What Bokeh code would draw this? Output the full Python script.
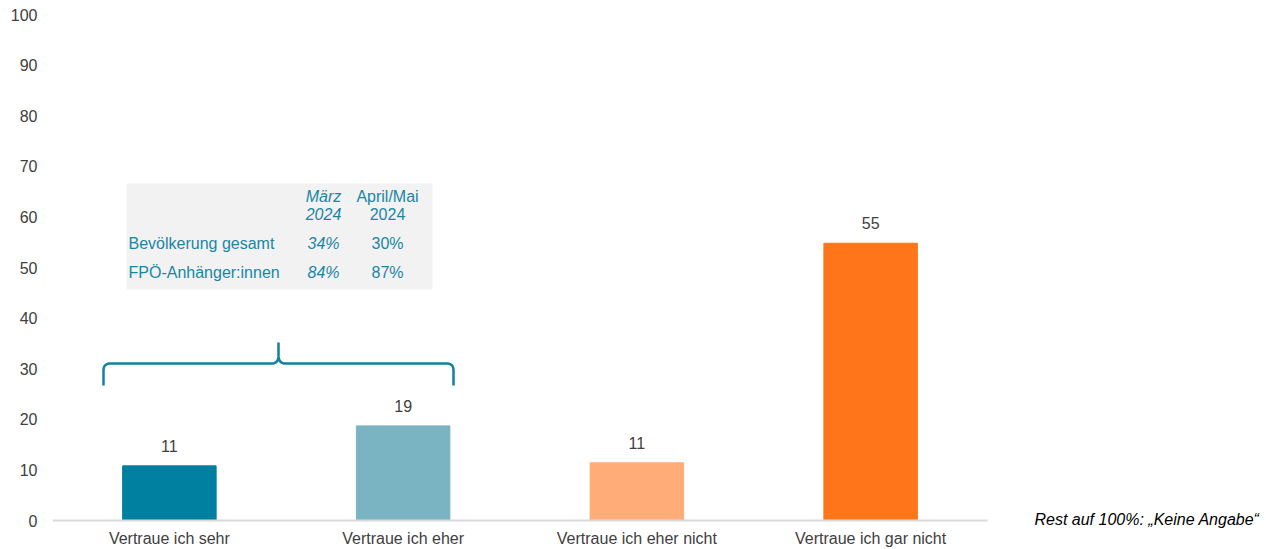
import numpy as np
from bokeh.plotting import figure
from bokeh.models import Range1d, FixedTicker, ColumnDataSource
from bokeh.core.properties import value
from bokeh.embed import file_html
from bokeh.resources import INLINE

categories = ["Vertraue ich sehr", "Vertraue ich eher", "Vertraue ich eher nicht", "Vertraue ich gar nicht"]
values = [10.8, 18.7, 11.4, 54.8]
value_labels = ["11", "19", "11", "55"]
colors = ["#0080a1", "#7ab4c2", "#ffac78", "#ff761a"]
y_ticks = [0, 10, 20, 30, 40, 50, 60, 70, 80, 90, 100]

table_header = ["März\n2024", "April/Mai\n2024"]
table_rows = ["Bevölkerung gesamt", "FPÖ-Anhänger:innen"]
table_maerz = ["34%", "84%"]
table_april = ["30%", "87%"]
note = "Rest auf 100%: „Keine Angabe“"

FONT = "Liberation Sans"
W, H = 1266, 549
L, T, B = 52, 14, 21
CAT_W = 233.75           # pixel width of one category slot
Y0_PX = 520              # pixel row of value 0
Y_SCALE = (Y0_PX - T) / 100.0
FRAME_BOTTOM = H - B     # 528 expected
n = len(categories)
x_end = (W - L) / CAT_W
y_start = -(FRAME_BOTTOM - Y0_PX) / Y_SCALE

p = figure(width=W, height=H, output_backend="svg", toolbar_location=None,
           x_range=Range1d(0, x_end), y_range=Range1d(y_start, 100),
           min_border_left=L, min_border_right=0, min_border_top=T, min_border_bottom=B)
p.outline_line_color = None
p.grid.grid_line_color = None
p.background_fill_color = "white"
p.border_fill_color = "white"

def px_x(px):
    return (px - L) / CAT_W
def px_y(py):
    return (Y0_PX - py) / Y_SCALE

xs = [i + 0.5 for i in range(n)]
src = ColumnDataSource(dict(x=xs, top=values, color=colors, lab=value_labels))
p.vbar(x="x", top="top", bottom=0, width=0.4, color="color", source=src)
p.text(x="x", y="top", text="lab", source=src, text_align="center", text_baseline="bottom",
       y_offset=-14, text_font=value(FONT), text_font_size="16px", text_color="#404040")

# baseline (x axis line) across the category slots only
p.segment(x0=[0], y0=[0], x1=[n], y1=[0], line_color="#d9d9d9", line_width=2)

# axes
p.xaxis.ticker = FixedTicker(ticks=xs)
p.xaxis.major_label_overrides = {x: c for x, c in zip(xs, categories)}
p.xaxis.major_tick_line_color = None
p.xaxis.major_tick_out = 0
p.xaxis.major_tick_in = 0
p.xaxis.minor_tick_line_color = None
p.xaxis.axis_line_color = None
p.xaxis.major_label_text_font = FONT
p.xaxis.major_label_text_font_size = "16px"
p.xaxis.major_label_text_color = "#404040"
p.xaxis.major_label_standoff = 1

p.yaxis.ticker = FixedTicker(ticks=y_ticks)
p.yaxis.major_tick_line_color = None
p.yaxis.major_tick_out = 0
p.yaxis.major_tick_in = 0
p.yaxis.minor_tick_line_color = None
p.yaxis.axis_line_color = None
p.yaxis.major_label_text_font = FONT
p.yaxis.major_label_text_font_size = "16px"
p.yaxis.major_label_text_color = "#404040"
p.yaxis.major_label_standoff = 15

# table box
p.quad(left=px_x(126), right=px_x(432), top=px_y(183), bottom=px_y(289),
       fill_color="#f2f2f2", line_color=None)
TC = "#1a86a5"
TS = "16px"
hx = [px_x(323), px_x(387)]
p.text(x=[hx[0]], y=[px_y(205)], text=[table_header[0]], text_align="center", text_baseline="middle",
       text_font=value(FONT), text_font_size=TS, text_font_style="italic", text_color=TC,
       text_line_height=1.1)
p.text(x=[hx[1]], y=[px_y(205)], text=[table_header[1]], text_align="center", text_baseline="middle",
       text_font=value(FONT), text_font_size=TS, text_color=TC, text_line_height=1.1)
ry = [px_y(243), px_y(272)]
p.text(x=[px_x(128)] * 2, y=ry, text=table_rows, text_align="left", text_baseline="middle",
       text_font=value(FONT), text_font_size=TS, text_color=TC)
p.text(x=[hx[0]] * 2, y=ry, text=table_maerz, text_align="center", text_baseline="middle",
       text_font=value(FONT), text_font_size=TS, text_font_style="italic", text_color=TC)
p.text(x=[hx[1]] * 2, y=ry, text=table_april, text_align="center", text_baseline="middle",
       text_font=value(FONT), text_font_size=TS, text_color=TC)

# curly brace (pixel path -> data)
def qbez(p0, c, p1, k=12):
    t = np.linspace(0, 1, k)
    x = (1 - t) ** 2 * p0[0] + 2 * (1 - t) * t * c[0] + t ** 2 * p1[0]
    y = (1 - t) ** 2 * p0[1] + 2 * (1 - t) * t * c[1] + t ** 2 * p1[1]
    return list(zip(x, y))

hy = 363
pts = [(103, 385), (103, 370)]
pts += qbez((103, 370), (103, hy), (110, hy))
pts += [(271, hy)]
pts += qbez((271, hy), (278, hy), (278, 355))
pts += [(278, 342), (278, 355)]
pts += qbez((278, 355), (278, hy), (285, hy))
pts += [(446, hy)]
pts += qbez((446, hy), (453, hy), (453, 370))
pts += [(453, 385)]
p.line([px_x(a) for a, b in pts], [px_y(b) for a, b in pts], line_color="#12809f", line_width=2.5)

# note
p.text(x=[px_x(1259)], y=[px_y(519)], text=[note], text_align="right", text_baseline="middle",
       text_font=value(FONT), text_font_size="16px", text_font_style="italic", text_color="#000000")

open("out.html", "w").write(file_html(p, INLINE))
